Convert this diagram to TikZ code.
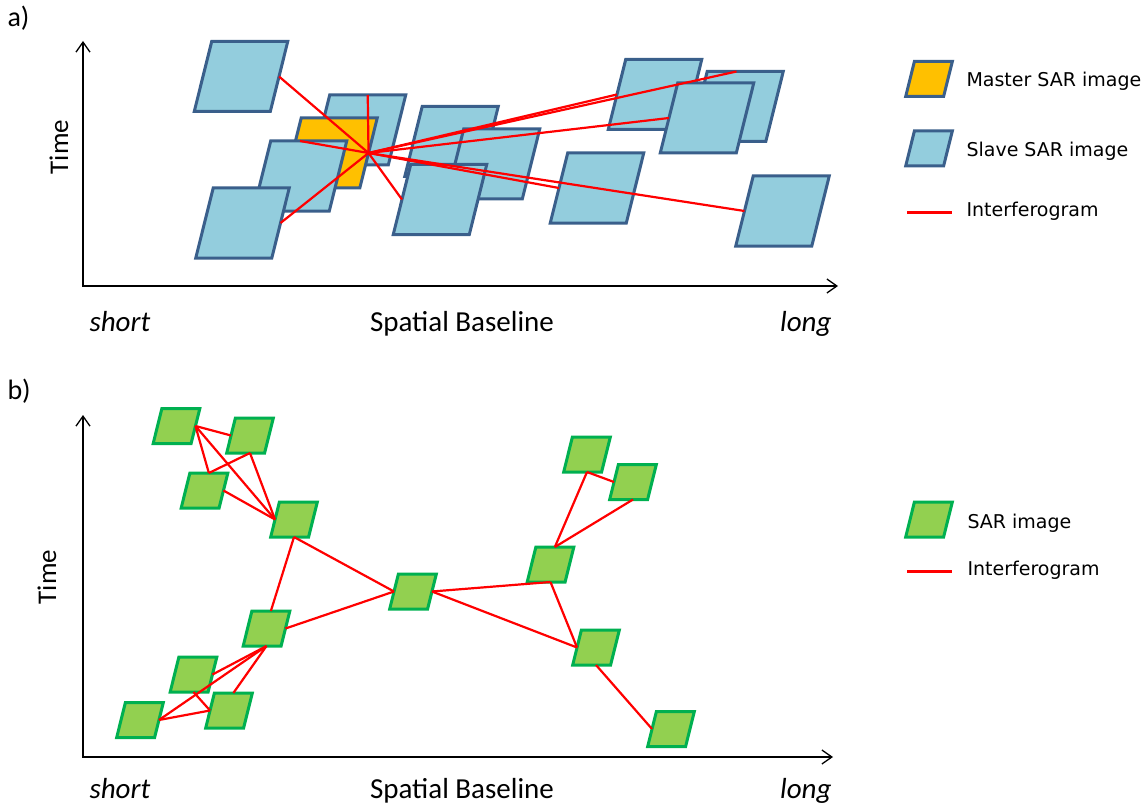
\documentclass[tikz,border=0pt]{standalone}
\usepackage{fontspec}
\setmainfont{Carlito}
\newfontfamily\legendfont{DejaVu Sans}
\usetikzlibrary{positioning,arrows.meta,shapes.geometric}
\definecolor{slavefill}{HTML}{93CDDD}
\definecolor{slaveedge}{HTML}{3A5F8B}
\definecolor{masterfill}{HTML}{FFC000}
\definecolor{imgfill}{HTML}{92D050}
\definecolor{imgedge}{HTML}{00B050}
\definecolor{ifgred}{HTML}{FF0000}

\begin{document}
\begin{tikzpicture}[
    x=1pt, y=-1pt,
    para/.style={trapezium, trapezium left angle=76, trapezium right angle=104, outer sep=0pt, line width=3pt},
    big/.style={inner xsep=29.3pt, inner ysep=35pt},
    icon/.style={inner xsep=14.6pt, inner ysep=17.5pt},
    slave/.style={para, big, draw=slaveedge, fill=slavefill},
    master/.style={slave, fill=masterfill},
    sar/.style={para, icon, draw=imgedge, fill=imgfill},
    ifg/.style={draw=ifgred, line width=2.2pt},
    axis/.style={line width=1.3pt, {Straight Barb[length=10pt,width=14pt]}-{Straight Barb[length=10pt,width=14pt]}},
    lbl/.style={font=\fontsize{29}{34}\selectfont, anchor=base},
    timelbl/.style={font=\fontsize{27}{32}\selectfont, rotate=90},
    panel/.style={font=\fontsize{28}{32}\selectfont, anchor=base west},
    legend/.style={font=\legendfont\fontsize{19}{23}\selectfont, anchor=base west}
]
    \useasboundingbox (0,0) rectangle (1145,805);

    % Panel a) axes
    \node[panel] (pa) at (4,27) {a)};
    \coordinate (oa) at (83,286);
    \coordinate (ya) at (83,41);
    \coordinate (xa) at (838,286);
    \draw[axis] (ya) -- (oa) -- (xa);
    \node[timelbl] (ta) at (59,147) {Time};
    \node[lbl, anchor=base west] (sa) at (86,331) {\itshape short};
    \node[lbl] (ba) at (462,331) {Spatial Baseline};
    \node[lbl, anchor=base east] (la) at (835,331) {\itshape long};

    % Panel a) images (back to front)
    \node[slave] (s1) at (241,76.5) {};
    \node[slave] (s2) at (359,130) {};
    \node[master] (m) at (330.5,153) {};
    \node[slave] (s3) at (300,176) {};
    \node[slave] (s4) at (242.5,223) {};
    \node[slave] (s5) at (451.5,141.5) {};
    \node[slave] (s6) at (493,164) {};
    \node[slave] (s7) at (440,199.5) {};
    \node[slave] (s8) at (597,188) {};
    \node[slave] (s9) at (655,94.5) {};
    \node[slave] (s10) at (736.5,106.5) {};
    \node[slave] (s11) at (707,118) {};
    \node[slave] (s12) at (782.5,211) {};

    % Panel a) interferograms
    \draw[ifg] (m.east) -- (s1.east);
    \draw[ifg] (m.east) -- (s2.top side);
    \draw[ifg] (m.east) -- (s3.north);
    \draw[ifg] (m.east) -- (s4.east);
    \draw[ifg] (m.east) -- (s7.west);
    \draw[ifg] (m.east) -- (s8.west);
    \draw[ifg] (m.east) -- (s9.west);
    \draw[ifg] (m.east) -- (s10.north);
    \draw[ifg] (m.east) -- (s11.west);
    \draw[ifg] (m.east) -- (s12.west);

    % Panel a) legend
    \node[para, icon, draw=slaveedge, fill=masterfill] (lm) at (929,79) {};
    \node[legend] at (963,86.7) {Master SAR image};
    \node[para, icon, draw=slaveedge, fill=slavefill] (ls) at (929,148.5) {};
    \node[legend] at (963,156.7) {Slave SAR image};
    \coordinate (lia) at (907,212.5);
    \coordinate (lib) at (952,212.5);
    \draw[ifg] (lia) -- (lib);
    \node[legend] at (963,216.7) {Interferogram};

    % Panel b) axes
    \node[panel] (pb) at (4,399) {b)};
    \coordinate (ob) at (83,757);
    \coordinate (yb) at (83,415);
    \coordinate (xb) at (833,757);
    \draw[axis] (yb) -- (ob) -- (xb);
    \node[timelbl] (tb) at (47,577) {Time};
    \node[lbl, anchor=base west] (sb) at (86,798) {\itshape short};
    \node[lbl] (bb) at (462,798) {Spatial Baseline};
    \node[lbl, anchor=base east] (lb) at (835,798) {\itshape long};

    % Panel b) images
    \node[sar] (g1) at (176.5,426) {};
    \node[sar] (g2) at (250,435.5) {};
    \node[sar] (g3) at (204.5,490.5) {};
    \node[sar] (g4) at (294,519.5) {};
    \node[sar] (g5) at (266.5,628.5) {};
    \node[sar] (g6) at (193.5,674.5) {};
    \node[sar] (g7) at (229,710.5) {};
    \node[sar] (g8) at (140,720) {};
    \node[sar] (g9) at (413,591.5) {};
    \node[sar] (g10) at (587,454.5) {};
    \node[sar] (g11) at (633,482) {};
    \node[sar] (g12) at (550.5,564.5) {};
    \node[sar] (g13) at (596,647.5) {};
    \node[sar] (g14) at (671,729) {};

    % Panel b) interferograms
    \draw[ifg] (g1.east) -- (g2.west);
    \draw[ifg] (g1.east) -- (g3.top side);
    \draw[ifg] (g1.east) -- (g4.west);
    \draw[ifg] (g2.south) -- (g3.top side);
    \draw[ifg] (g2.south) -- (g4.west);
    \draw[ifg] (g3.east) -- (g4.west);
    \draw[ifg] (g4.south) -- (g5.top side);
    \draw[ifg] (g4.south) -- (g9.west);
    \draw[ifg] (g5.east) -- (g9.west);
    \draw[ifg] (g5.south) -- (g6.east);
    \draw[ifg] (g5.south) -- (g8.east);
    \draw[ifg] (g5.south) -- (g7.top side);
    \draw[ifg] (g6.south) -- (g7.west);
    \draw[ifg] (g8.east) -- (g7.west);
    \draw[ifg] (g9.east) -- (g12.south);
    \draw[ifg] (g9.east) -- (g13.west);
    \draw[ifg] (g12.south) -- (g13.west);
    \draw[ifg] (g12.top side) -- (g10.south);
    \draw[ifg] (g12.top side) -- (g11.south);
    \draw[ifg] (g10.south) -- (g11.west);
    \draw[ifg] (g13.south) -- (g14.west);

    % Panel b) legend
    \node[sar] (lg) at (929,519.5) {};
    \node[legend] at (964,528) {SAR image};
    \coordinate (lic) at (907,571.5);
    \coordinate (lid) at (952,571.5);
    \draw[ifg] (lic) -- (lid);
    \node[legend] at (964,575) {Interferogram};
\end{tikzpicture}
\end{document}
